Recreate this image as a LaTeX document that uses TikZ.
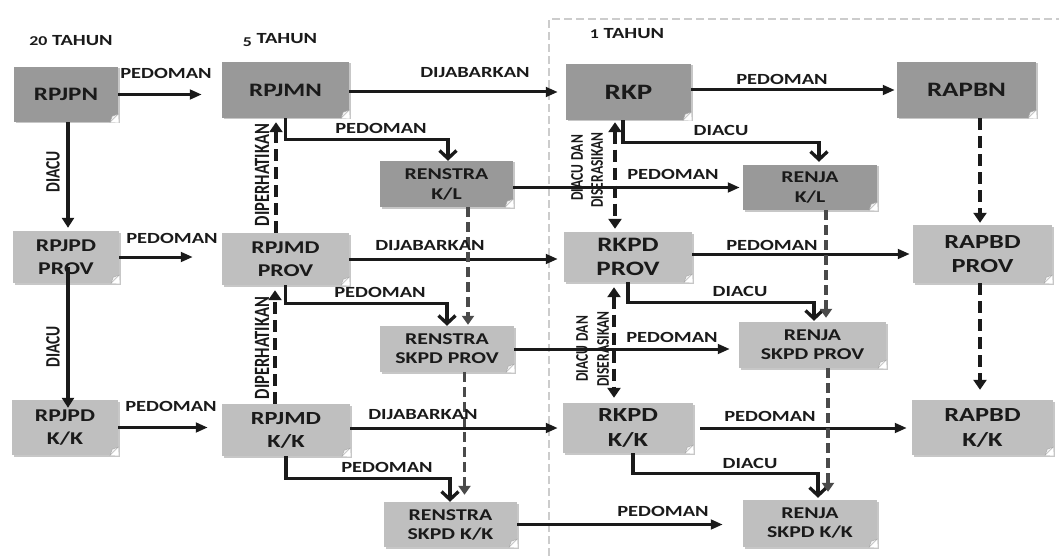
\documentclass[tikz,border=0pt]{standalone}
\usepackage{fontspec}
\usepackage{graphicx}
\setmainfont{Carlito}[FakeStretch=1.32]
\newfontfamily\rotf{Carlito}
\usetikzlibrary{arrows.meta,shadows,calc}
\definecolor{dfill}{HTML}{999999}
\definecolor{lfill}{HTML}{BFBFBF}
\definecolor{txt}{HTML}{1A1A1A}
\definecolor{gline}{HTML}{4A4A4A}
\definecolor{framec}{HTML}{CCCCCC}
\newcommand{\fz}[2]{\fontsize{#1}{#2}\selectfont\bfseries}
\newcommand{\rtxt}[2]{\scalebox{1}[1.32]{\rotf\fontsize{#1}{#1}\selectfont\bfseries #2}}
\newcommand{\osn}[1]{{\fontsize{13.5}{14}\selectfont #1}}
\tikzset{
  box/.style={rectangle, inner sep=0pt, align=center, text=txt,
    drop shadow={shadow xshift=1.5pt, shadow yshift=-1.5pt, fill=black, opacity=0.22}},
  dbox/.style={box, fill=dfill},
  lbox/.style={box, fill=lfill},
  lbl/.style={text=txt, inner sep=0pt, font=\fz{15.5}{18}},
  ttl/.style={text=txt, inner sep=0pt, font=\fz{15.5}{18}},
  rlbl/.style={text=txt, inner sep=0pt, rotate=90},
  arr/.style={draw=txt, line width=3pt, -{Triangle[length=12pt,width=9.5pt]}},
  varr/.style={draw=txt, line width=3.5pt, -{Triangle[length=10pt,width=12pt]}},
  elb/.style={draw=txt, line width=3.3pt, line join=miter, -{Straight Barb[length=8pt,width=17pt]}},
  gdash/.style={draw=gline, line width=3.8pt, dash pattern=on 10pt off 5pt, -{Triangle[length=9pt,width=12pt]}},
  bdash/.style={draw=txt, line width=4.5pt, dash pattern=on 12pt off 6pt, -{Triangle[length=10pt,width=13pt]}},
  bdash2/.style={draw=txt, line width=4.5pt, dash pattern=on 12pt off 6pt, {Triangle[length=10pt,width=13pt]}-{Triangle[length=10pt,width=13pt]}},
  framel/.style={draw=framec, line width=2.6pt, dash pattern=on 8pt off 4pt}
}
\begin{document}
\begin{tikzpicture}[x=1pt,y=-1pt]
\useasboundingbox (0,0) rectangle (1059,556);
% frame
\coordinate (fb) at (549,556);
\coordinate (ft) at (549,19);
\coordinate (fr) at (1059,19);
\draw[framel] (fb) -- (ft) -- (fr);
% titles
\node[ttl] (t20) at (71,41) {\osn{20} TAHUN};
\node[ttl] (t5) at (280,40) {\raisebox{-2.5pt}{\osn{5}} TAHUN};
\node[ttl] (t1) at (627,34) {\osn{1} TAHUN};
% nodes row 1
\node[dbox, minimum width=104pt, minimum height=55pt, font=\fz{19}{24}] (rpjpn) at (66,94.5) {RPJPN};
\node[dbox, minimum width=127pt, minimum height=56pt, font=\fz{19}{24}] (rpjmn) at (285.5,90) {RPJMN};
\node[dbox, minimum width=125pt, minimum height=56pt, font=\fz{22}{26}] (rkp) at (628.5,92) {RKP};
\node[dbox, minimum width=139pt, minimum height=56pt, font=\fz{20.5}{25}] (rapbn) at (966.5,90) {RAPBN};
\node[dbox, minimum width=133pt, minimum height=46pt, font=\fz{16.5}{20}] (renkl) at (446.5,184) {RENSTRA\\K/L};
\node[dbox, minimum width=134pt, minimum height=45pt, font=\fz{16.5}{20}] (renjakl) at (810,187.5) {RENJA\\K/L};
% row 2
\node[lbox, minimum width=106pt, minimum height=52pt, font=\fz{18}{23}] (rpjpdp) at (66,257) {RPJPD\\PROV};
\node[lbox, minimum width=127pt, minimum height=52pt, font=\fz{18}{23}] (rpjmdp) at (285.5,259) {RPJMD\\PROV};
\node[lbox, minimum width=128pt, minimum height=50pt, font=\fz{20.5}{24}] (rkpdp) at (628,257) {RKPD\\PROV};
\node[lbox, minimum width=139pt, minimum height=58pt, font=\fz{20}{24}] (rapbdp) at (982.5,254) {RAPBD\\PROV};
\node[lbox, minimum width=134pt, minimum height=46pt, font=\fz{16.5}{19}] (renskpdp) at (447,349) {RENSTRA\\SKPD PROV};
\node[lbox, minimum width=147pt, minimum height=46pt, font=\fz{16.5}{19}] (renjap) at (812.5,345) {RENJA\\SKPD PROV};
% row 3
\node[lbox, minimum width=106pt, minimum height=55pt, font=\fz{18}{23}] (rpjpdk) at (65,427.5) {RPJPD\\K/K};
\node[lbox, minimum width=128pt, minimum height=52pt, font=\fz{18.5}{23}] (rpjmdk) at (286,430) {RPJMD\\K/K};
\node[lbox, minimum width=130pt, minimum height=50pt, font=\fz{20}{25}] (rkpdk) at (628,428) {RKPD\\K/K};
\node[lbox, minimum width=141pt, minimum height=55pt, font=\fz{20}{25}] (rapbdk) at (982.5,427.5) {RAPBD\\K/K};
\node[lbox, minimum width=133pt, minimum height=45pt, font=\fz{16.5}{19}] (renskpdk) at (450.5,524.5) {RENSTRA\\SKPD K/K};
\node[lbox, minimum width=134pt, minimum height=47pt, font=\fz{16.5}{19}] (renjak) at (810,523.5) {RENJA\\SKPD K/K};
% folded corners
\foreach \n in {rpjpn,rpjmn,rkp,rapbn,renkl,renjakl,rpjpdp,rpjmdp,rkpdp,rapbdp,renskpdp,renjap,rpjpdk,rpjmdk,rkpdk,rapbdk,renskpdk,renjak}{
  \fill[white] ([xshift=-8pt]\n.south east) -- ([xshift=0.5pt,yshift=-0.5pt]\n.south east) -- ([yshift=8pt]\n.south east) -- cycle;
  \filldraw[fill=gray!12, draw=gray!70, line width=0.4pt] ([xshift=-8pt]\n.south east) -- ([yshift=8pt]\n.south east) -- ([xshift=-6pt,yshift=6pt]\n.south east) -- cycle;
}
% horizontal arrows
\draw[arr, shorten >=20pt] (rpjpn.east) -- (rpjpn.east -| rpjmn.west);
\draw[arr, shorten >=8pt] (rkp.west -| rpjmn.east) -- (rkp.west);
\draw[arr, shorten >=2pt] (rapbn.west -| rkp.east) -- (rapbn.west);
\draw[arr, shorten >=29pt] (rpjpdp.east) -- (rpjpdp.east -| rpjmdp.west);
\draw[arr, shorten >=6pt] (rpjmdp.east) -- (rpjmdp.east -| rkpdp.west);
\draw[arr, shorten >=3pt] (rapbdp.west -| rkpdp.east) -- (rapbdp.west);
\draw[arr, shorten >=14pt] (rpjpdk.east) -- (rpjpdk.east -| rpjmdk.west);
\draw[arr, shorten >=5pt] (rkpdk.west -| rpjmdk.east) -- (rkpdk.west);
\draw[arr, shorten <=7pt, shorten >=5pt] (rkpdk.east) -- (rkpdk.east -| rapbdk.west);
\draw[arr, shorten >=3pt] (renjakl.west -| renkl.east) -- (renjakl.west);
\draw[arr, shorten >=9pt] (renskpdp.east) -- (renskpdp.east -| renjap.west);
\draw[arr, shorten >=20pt] (renskpdk.east) -- (renskpdk.east -| renjak.west);
% vertical DIACU
\draw[varr, shorten >=3pt] ([xshift=2pt]rpjpn.south) -- ([xshift=2pt]rpjpn.south |- rpjpdp.north);
\draw[varr, shorten >=2pt] ([xshift=2pt,yshift=-10pt]rpjpdp.center) -- ([xshift=2pt,yshift=-10pt]rpjpdp.center |- rpjpdk.north);
% elbows
\draw[elb] (rpjmn.south) -- ++(0,21) -| ([xshift=1.5pt]renkl.north);
\draw[elb] (rpjmdp.south) -- ++(0,18) -| (renskpdp.north);
\draw[elb] (rpjmdk.south) -- ++(0,22) -| ([xshift=-0.5pt]renskpdk.north);
\draw[elb, shorten >=3pt] ([xshift=-5.5pt]rkp.south) -- ++(0,22) -| ([xshift=9pt]renjakl.north);
\draw[elb, shorten >=1pt] (rkpdp.south) -- ++(0,20) -| ([xshift=1.5pt]renjap.north);
\draw[elb, shorten >=2pt] ([xshift=5pt]rkpdk.south) -- ++(0,20) -| ([xshift=8pt]renjak.north);
% gray dashed
\draw[gdash, shorten >=1pt] ([xshift=21.5pt]renkl.south) -- ([xshift=21.5pt]renkl.south |- renskpdp.north);
\draw[gdash, shorten >=7pt] ([xshift=17.5pt]renskpdp.south) -- ([xshift=17.5pt]renskpdp.south |- renskpdk.north);
\draw[gdash, shorten >=4pt] ([xshift=16pt]renjakl.south) -- ([xshift=16pt]renjakl.south |- renjap.north);
\draw[gdash, shorten >=8pt] ([xshift=15.5pt]renjap.south) -- ([xshift=15.5pt]renjap.south |- renjak.north);
% black dashed
\draw[bdash, shorten >=4pt] ([xshift=-9.5pt]rpjmdp.north) -- ([xshift=-9.5pt]rpjmdp.north |- rpjmn.south);
\draw[bdash, shorten >=5pt] ([xshift=-11pt]rpjmdk.north) -- ([xshift=-11pt]rpjmdk.north |- rpjmdp.south);
\draw[bdash2, shorten <=2pt, shorten >=3pt] ([xshift=-13.5pt]rkp.south) -- ([xshift=-13.5pt]rkp.south |- rkpdp.north);
\draw[bdash2, shorten <=5pt, shorten >=5pt] ([xshift=-14pt]rkpdp.south) -- ([xshift=-14pt]rkpdp.south |- rkpdk.north);
\draw[bdash, shorten >=2pt] ([xshift=13.5pt]rapbn.south) -- ([xshift=13.5pt]rapbn.south |- rapbdp.north);
\draw[bdash, shorten >=10pt] ([xshift=-2.5pt]rapbdp.south) -- ([xshift=-2.5pt]rapbdp.south |- rapbdk.north);
% labels
\node[lbl] (l1) at (166,73) {PEDOMAN};
\node[lbl] (l2) at (475,73) {DIJABARKAN};
\node[lbl] (l3) at (782,79) {PEDOMAN};
\node[lbl] (l4) at (381,128) {PEDOMAN};
\node[lbl] (l5) at (721,130) {DIACU};
\node[lbl] (l6) at (673,174) {PEDOMAN};
\node[lbl] (l7) at (172,238) {PEDOMAN};
\node[lbl] (l8) at (430,246) {DIJABARKAN};
\node[lbl] (l9) at (772,245) {PEDOMAN};
\node[lbl] (l10) at (740,291) {DIACU};
\node[lbl] (l11) at (380,292) {PEDOMAN};
\node[lbl] (l12) at (672,337) {PEDOMAN};
\node[lbl] (l13) at (171,406) {PEDOMAN};
\node[lbl] (l14) at (423,415) {DIJABARKAN};
\node[lbl] (l15) at (770,416) {PEDOMAN};
\node[lbl] (l16) at (750,463) {DIACU};
\node[lbl] (l17) at (387,467) {PEDOMAN};
\node[lbl] (l18) at (663,511) {PEDOMAN};
% rotated labels
\node[rlbl] (r1) at (53,172) {\rtxt{15.5}{DIACU}};
\node[rlbl] (r2) at (53,347) {\rtxt{15.5}{DIACU}};
\node[rlbl] (r3) at (262,175) {\rtxt{16.5}{DIPERHATIKAN}};
\node[rlbl] (r4) at (262,348) {\rtxt{16.5}{DIPERHATIKAN}};
\node[rlbl] (r5) at (577,168) {\rtxt{13.5}{DIACU\hspace{4.5pt}DAN}};
\node[rlbl] (r6) at (597,170) {\rtxt{13.5}{DISERASIKAN}};
\node[rlbl] (r7) at (582,349) {\rtxt{13.5}{DIACU\hspace{4.5pt}DAN}};
\node[rlbl] (r8) at (603,349) {\rtxt{13.5}{DISERASIKAN}};
\end{tikzpicture}
\end{document}
